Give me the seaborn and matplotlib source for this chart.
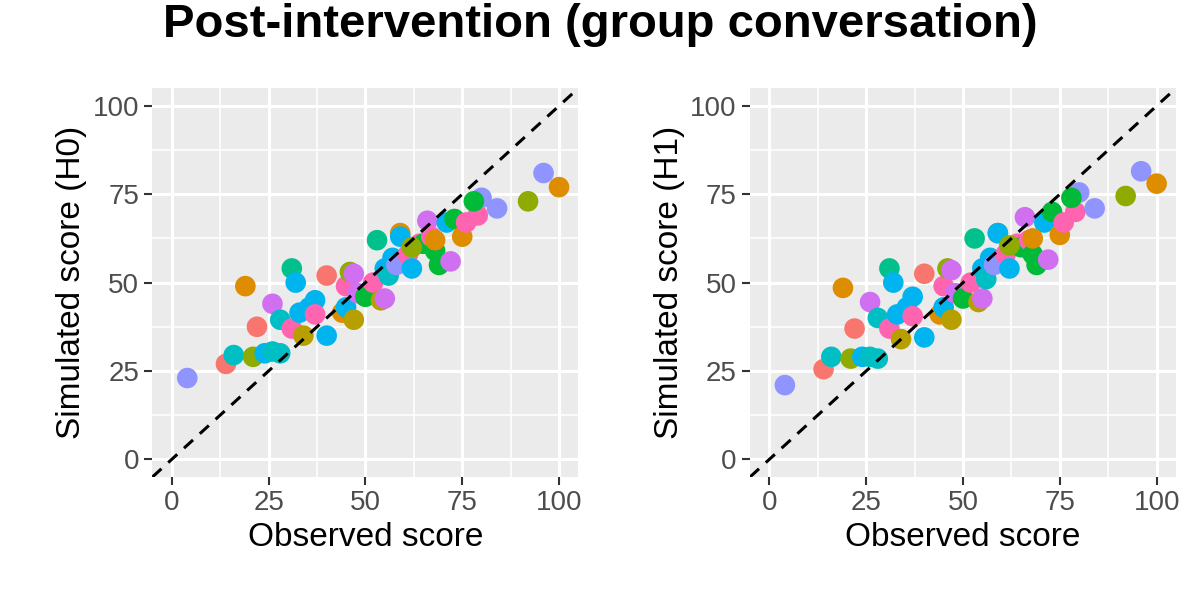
import numpy as np
import pandas as pd
import matplotlib.pyplot as plt
import seaborn as sns
from matplotlib.ticker import MultipleLocator

observed = [4, 14, 16, 19, 22, 21, 26, 24, 26, 28, 28, 31, 32, 31, 33, 34, 35.5, 37, 37, 40,
            40, 44, 45, 45, 46, 47, 47, 48, 50, 52, 53, 54, 55, 55, 56, 57, 58, 59, 59, 61,
            62, 62, 64, 65, 66, 67, 69, 68, 71, 73, 72, 75, 76, 79, 80, 78, 84, 92, 96, 100,
            62, 68]
sim_h0 = [23, 27, 29.5, 49, 37.5, 29, 44, 30, 30.5, 30, 39.5, 54, 50, 37, 41.5, 35, 43, 45, 41, 35,
          52, 41.5, 43, 49, 53, 39.5, 52.5, 47, 46, 50, 62, 45, 45.5, 54, 52, 57, 55, 64, 63, 58,
          54, 60, 61, 61, 67.5, 63, 55, 59, 67, 68, 56, 63, 67, 69, 74, 73, 71, 73, 81, 77,
          60, 62]
sim_h1 = [21, 25.5, 29, 48.5, 37, 28.5, 44.5, 29, 29, 28.5, 40, 54, 50, 37, 41, 34, 43, 46, 40.5, 34.5,
          52.5, 41, 43, 49, 54, 39.5, 53.5, 47, 45.5, 50, 62.5, 44.5, 45.5, 54, 51, 57, 55, 64, 64, 58,
          54, 60, 61, 60, 68.5, 62, 55, 58, 67, 70, 56.5, 63.5, 67, 70, 75.5, 74, 71, 74.5, 81.5, 78,
          60.5, 62.5]
groups = ['I', 'A', 'G', 'B', 'A', 'D', 'J', 'H', 'G', 'G', 'G', 'F', 'H', 'L', 'H', 'C', 'H', 'H', 'L', 'H',
          'A', 'B', 'H', 'L', 'D', 'C', 'J', 'J', 'E', 'L', 'F', 'C', 'J', 'H', 'G', 'H', 'I', 'B', 'H', 'L',
          'H', 'L', 'L', 'E', 'J', 'L', 'E', 'E', 'H', 'E', 'J', 'B', 'L', 'L', 'I', 'E', 'I', 'D', 'I', 'B',
          'D', 'B']

palette = ['#F8766D', '#DE8C00', '#B79F00', '#8FAA00', '#00BA38', '#00C08B',
           '#00BFC4', '#00B4F0', '#8F94FF', '#D070F0', '#F564E3', '#FF64B0']
group_order = list('ABCDEFGHIJKL')

df = pd.DataFrame({'obs': observed, 'h0': sim_h0, 'h1': sim_h1, 'group': groups})

sns.set_theme(style='darkgrid', rc={'axes.facecolor': '#EBEBEB', 'grid.color': 'white'})
plt.rcParams['font.family'] = ['Liberation Sans', 'DejaVu Sans']

fig = plt.figure(figsize=(12, 6), dpi=100)
ax1 = fig.add_axes([0.127, 0.205, 0.355, 0.648])
ax2 = fig.add_axes([0.625, 0.205, 0.355, 0.648])

for ax, col, lab in [(ax1, 'h0', 'Simulated score (H0)'), (ax2, 'h1', 'Simulated score (H1)')]:
    sns.scatterplot(data=df, x='obs', y=col, hue='group', hue_order=group_order,
                    palette=palette, s=220, edgecolor='none', legend=False, ax=ax, zorder=3)
    ax.axline((0, 0), slope=1, color='black', linestyle=(0, (4, 3)), linewidth=2.2, zorder=4)
    ax.set_xlim(-5, 105)
    ax.set_ylim(-5, 105)
    ax.xaxis.set_major_locator(MultipleLocator(25))
    ax.yaxis.set_major_locator(MultipleLocator(25))
    ax.xaxis.set_minor_locator(MultipleLocator(12.5))
    ax.yaxis.set_minor_locator(MultipleLocator(12.5))
    ax.grid(which='major', color='white', linewidth=2.2)
    ax.grid(which='minor', color='white', linewidth=1.1)
    ax.tick_params(which='major', length=6, width=1.5, color='#333333', labelsize=20,
                   labelcolor='#4D4D4D', bottom=True, left=True)
    ax.tick_params(which='minor', length=0)
    ax.set_xlabel('Observed score', fontsize=24, color='black')
    ax.set_ylabel(lab, fontsize=24, color='black')
    for s in ax.spines.values():
        s.set_visible(False)

fig.suptitle('Post-intervention (group conversation)', fontsize=34, fontweight='bold',
             color='black', y=0.995)
fig.savefig('out.png', dpi=100)
